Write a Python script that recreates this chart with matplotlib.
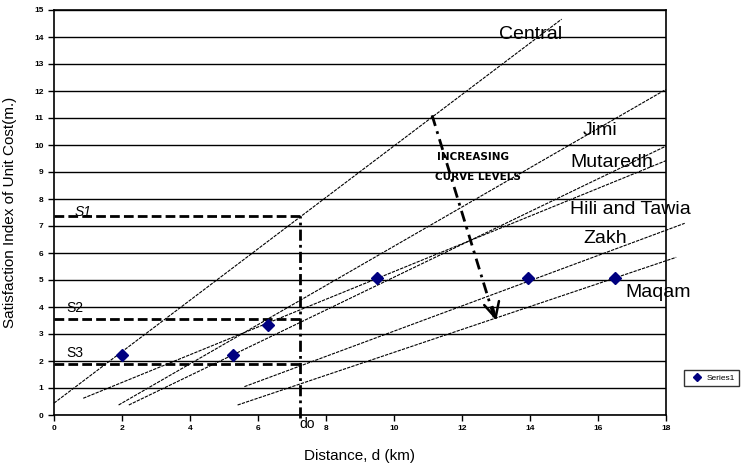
import matplotlib
matplotlib.use("Agg")
from matplotlib import pyplot as plt

# curve end points
curve_names = ["Central", "Jimi", "Mutaredh", "Hili and Tawia", "Zakh", "Maqam"]
curve_x0 = [0.0, 1.9, 2.2, 0.86, 5.6, 5.4]
curve_y0 = [0.44, 0.37, 0.37, 0.62, 1.05, 0.37]
curve_x1 = [14.93, 18.0, 18.0, 18.0, 18.55, 18.3]
curve_y1 = [14.66, 12.06, 9.96, 9.42, 7.1, 5.84]

# Series1 points
series_x = [2.0, 5.25, 6.3, 9.5, 13.95, 16.5]
series_y = [2.22, 2.22, 3.35, 5.07, 5.07, 5.07]

# S levels and d0
s_names = ["S1", "S2", "S3"]
s_values = [7.37, 3.54, 1.89]
d0 = 7.24

x_ticks = list(range(0, 19, 2))
y_ticks = list(range(0, 16))

plt.rcParams['font.family'] = ['Liberation Sans', 'DejaVu Sans']

fig = plt.figure(figsize=(7.54, 4.67), dpi=100)
ax = fig.add_axes([54/754, 52/467, 612/754, 405/467])

for v in y_ticks:
    ax.axhline(v, color="black", lw=1.0, zorder=1)

# curves
label_pos = {
    "Central": (13.1, 14.1),
    "Jimi": (15.56, 10.55),
    "Mutaredh": (15.18, 9.37),
    "Hili and Tawia": (15.18, 7.6),
    "Zakh": (15.56, 6.55),
    "Maqam": (16.8, 4.52),
}
for name, xa, ya, xb, yb in zip(curve_names, curve_x0, curve_y0, curve_x1, curve_y1):
    ax.plot([xa, xb], [ya, yb], color="black", lw=0.8, dashes=(3, 1),
            clip_on=False, zorder=3)
    lx, ly = label_pos[name]
    ax.text(lx, ly, name, fontsize=14, va="center", ha="left", zorder=4)

# S level dashed lines
s_label_pos = {"S1": (0.62, 7.52), "S2": (0.37, 3.95), "S3": (0.37, 2.3)}
for name, v in zip(s_names, s_values):
    ax.plot([0, d0], [v, v], color="black", lw=2.0, dashes=(3.5, 1.5), zorder=3)
    lx, ly = s_label_pos[name]
    ax.text(lx, ly, name, fontsize=10, va="center", ha="left",
            style="italic" if name == "S1" else "normal", zorder=4)
ax.plot([d0, d0], [-0.1, max(s_values)], color="black", lw=2.0,
        dashes=(4, 1.5, 1, 1.5), clip_on=False, zorder=3)
ax.text(7.45, -0.33, "do", fontsize=10, va="center", ha="center")

# arrow
ax.plot([11.12, 12.95], [11.1, 3.6], color="black", lw=2.0, dashes=(4, 2, 1, 2),
        zorder=4)
ax.annotate("", xy=(13.03, 3.4), xytext=(12.88, 4.1),
            arrowprops=dict(arrowstyle="->,head_length=1.1,head_width=0.55",
                            color="black", lw=1.8), zorder=5)
ax.text(11.25, 9.54, "INCREASING", fontsize=7.5, fontweight="bold",
        family="DejaVu Sans", va="center", ha="left")
ax.text(11.2, 8.83, "CURVE LEVELS", fontsize=7.5, fontweight="bold",
        family="DejaVu Sans", va="center", ha="left")

ax.plot(series_x, series_y, linestyle="none", marker="D", markersize=6,
        color="#000080", label="Series1", zorder=6)

ax.set_xlim(0, 18)
ax.set_ylim(0, 15)
ax.set_xticks(x_ticks)
ax.set_yticks(y_ticks)
ax.tick_params(axis="both", direction="out", length=4, width=1, labelsize=6)
for lab in ax.get_xticklabels() + ax.get_yticklabels():
    lab.set_fontweight("bold")
for sp in ax.spines.values():
    sp.set_linewidth(1.2)

ax.set_xlabel("Distance, d (km)", fontsize=11, labelpad=12)
ax.set_ylabel("Satisfaction Index of Unit Cost(m.)", fontsize=11, labelpad=12)

fig.legend(loc="center left", bbox_to_anchor=(680/754, 1 - 378/467),
           fontsize=6, frameon=True, fancybox=False, edgecolor="black",
           handletextpad=0.2, borderpad=0.5, markerscale=0.7)

fig.savefig("out.png", dpi=100)
